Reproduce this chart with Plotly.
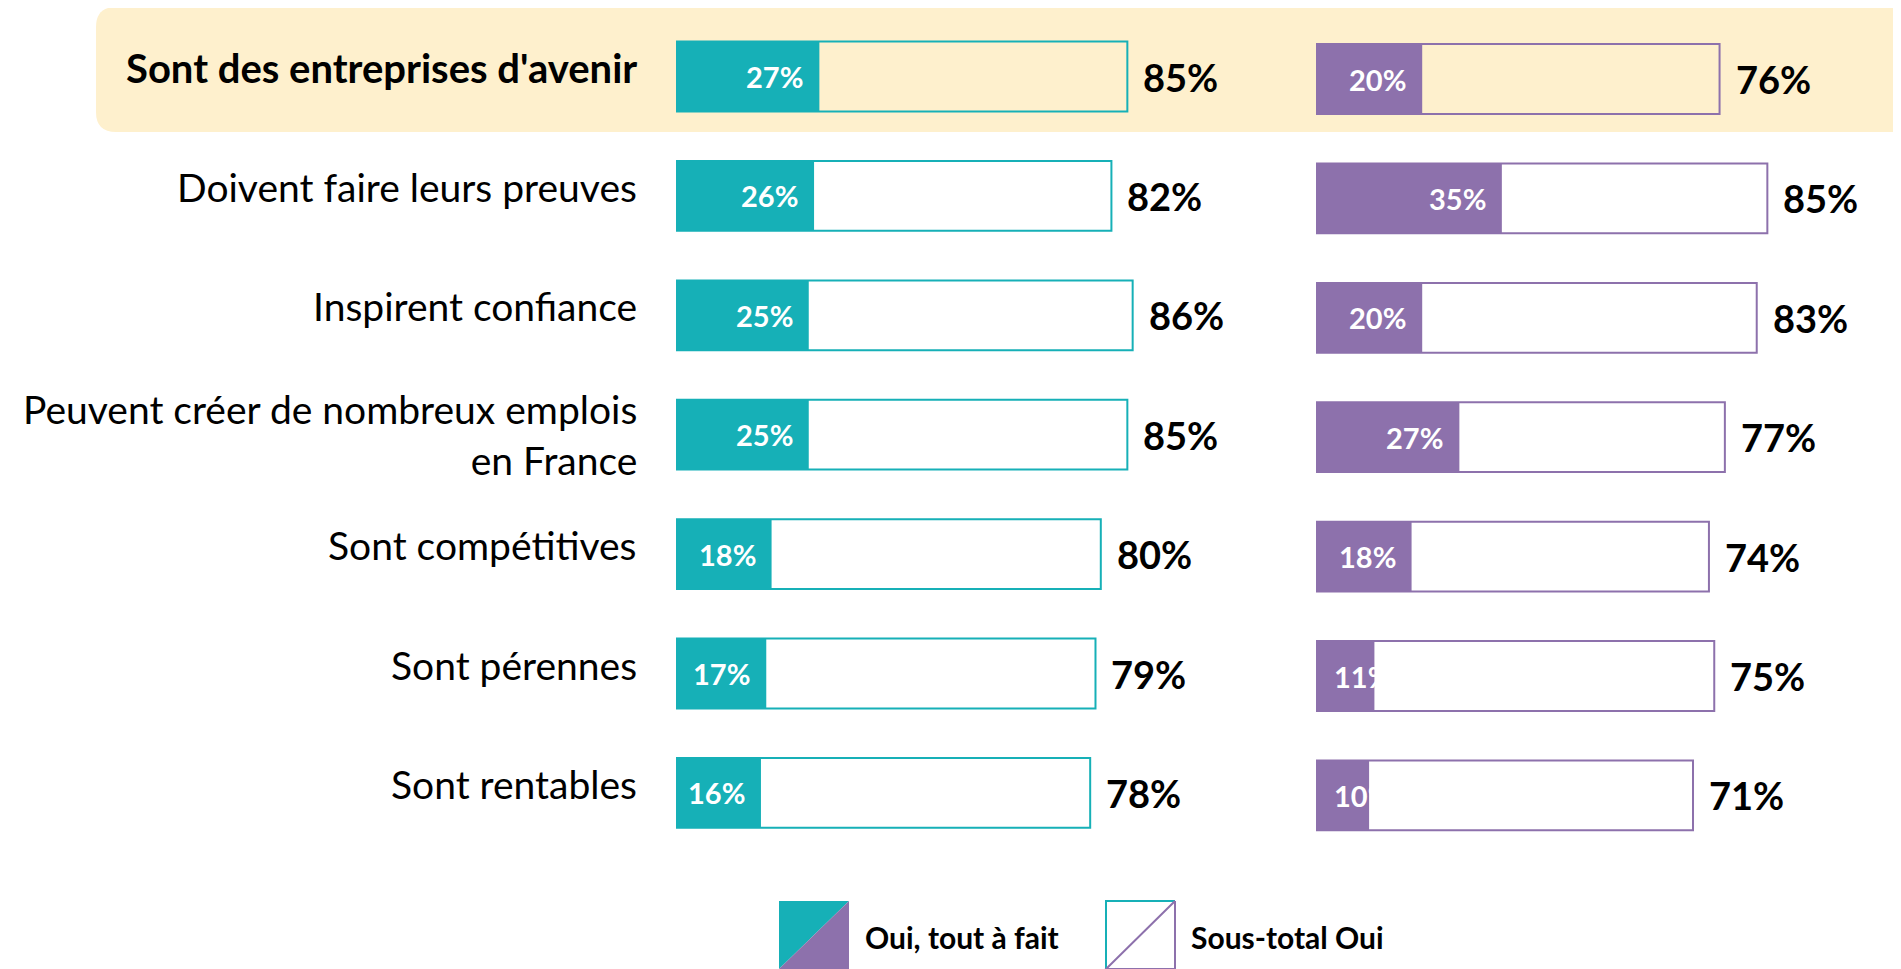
import plotly.graph_objects as go

categories = [
    "Sont des entreprises d'avenir",
    "Doivent faire leurs preuves",
    "Inspirent confiance",
    "Peuvent créer de nombreux emplois<br>en France",
    "Sont compétitives",
    "Sont pérennes",
    "Sont rentables",
]
teal_fait = [27, 26, 25, 25, 18, 17, 16]
teal_total = [85, 82, 86, 85, 80, 79, 78]
purple_fait = [20, 35, 20, 27, 18, 11, 10]
purple_total = [76, 85, 83, 77, 74, 75, 71]
legend_labels = ["Oui, tout à fait", "Sous-total Oui"]

TEAL = "#16B0B7"
PURPLE = "#8D71AC"
BAND = "#FEF0CD"
FONT = "Lato"
W, H = 1901, 969
OFF = 8  # page body margin
PPU = 5.31  # pixels per percent


def px(x):
    return (x - OFF) / W


def py(y):
    return 1 - (y - OFF) / H


def yrange(top_center):
    # category axis range so that row 0 sits at top_center px, pitch 119.4 px
    pitch = 119.4
    start = -(top_center - OFF) / pitch
    return [start + H / pitch, start]


fig = go.Figure()

for xa, ya, fait, total, col in [("x", "y", teal_fait, teal_total, TEAL),
                                 ("x2", "y2", purple_fait, purple_total, PURPLE)]:
    fig.add_trace(go.Bar(x=total, y=categories, orientation="h", width=0.585,
                         marker=dict(color="rgba(0,0,0,0)", line=dict(color=col, width=2)),
                         xaxis=xa, yaxis=ya, hoverinfo="skip", showlegend=False))
    fig.add_trace(go.Bar(x=fait, y=categories, orientation="h", width=0.585,
                         marker=dict(color=col, line=dict(width=0)),
                         xaxis=xa, yaxis=ya, hoverinfo="skip", showlegend=False))
    for c, f, t in zip(categories, fait, total):
        if f >= 13:
            fig.add_annotation(x=f, y=c, xref=xa, yref=ya, text=f"<b>{f}%</b>",
                               xanchor="right", xshift=-14, showarrow=False,
                               font=dict(family=FONT, size=29, color="white"))
        else:
            fig.add_annotation(x=0, y=c, xref=xa, yref=ya, text=f"<b>{f}%</b>",
                               xanchor="left", xshift=16, showarrow=False,
                               font=dict(family=FONT, size=29, color="white"))
        fig.add_annotation(x=t, y=c, xref=xa, yref=ya, text=f"<b>{t}%</b>",
                           xanchor="left", xshift=14, showarrow=False,
                           font=dict(family=FONT, size=38, color="black"))

for i, c in enumerate(categories):
    txt = f"<b>{c}</b>" if i == 0 else c
    fig.add_annotation(x=px(639), y=c, xref="paper", yref="y", text=txt,
                       xanchor="right", align="right", showarrow=False,
                       yshift=0 if "<br>" in c else 9,
                       font=dict(family=FONT, size=40 if i == 0 else 39, color="black"))

# highlighted first row
x0, x1, y0, y1, r = 96, W + 20, 7, 132, 20
band_path = (f"M {px(x0 + r)} {py(y0)} L {px(x1)} {py(y0)} L {px(x1)} {py(y1)} "
             f"L {px(x0 + r)} {py(y1)} Q {px(x0)} {py(y1)} {px(x0)} {py(y1 - r)} "
             f"L {px(x0)} {py(y0 + r)} Q {px(x0)} {py(y0)} {px(x0 + r)} {py(y0)} Z")
fig.add_shape(type="path", path=band_path, xref="paper", yref="paper",
              fillcolor=BAND, line=dict(width=0), layer="below")

# legend swatches
lx0, lx1, ly0, ly1 = 779, 849, 901, 969
fig.add_shape(type="path", xref="paper", yref="paper", line=dict(width=0), fillcolor=TEAL,
              path=f"M {px(lx0)} {py(ly0)} L {px(lx1)} {py(ly0)} L {px(lx0)} {py(ly1)} Z")
fig.add_shape(type="path", xref="paper", yref="paper", line=dict(width=0), fillcolor=PURPLE,
              path=f"M {px(lx1)} {py(ly0)} L {px(lx1)} {py(ly1)} L {px(lx0)} {py(ly1)} Z")
sx0, sx1 = 1106, 1175
fig.add_shape(type="path", xref="paper", yref="paper", line=dict(color=TEAL, width=2),
              path=f"M {px(sx0)} {py(ly1)} L {px(sx0)} {py(ly0)} L {px(sx1)} {py(ly0)}")
fig.add_shape(type="path", xref="paper", yref="paper", line=dict(color=PURPLE, width=2),
              path=f"M {px(sx1)} {py(ly0)} L {px(sx1)} {py(ly1)} L {px(sx0)} {py(ly1)} "
                   f"L {px(sx1)} {py(ly0)}")
for lx, lab in zip([863, 1189], legend_labels):
    fig.add_annotation(x=px(lx), y=py(937), xref="paper", yref="paper", text=f"<b>{lab}</b>",
                       xanchor="left", yanchor="middle", showarrow=False,
                       font=dict(family=FONT, size=30, color="black"))

hidden = dict(showgrid=False, zeroline=False, showticklabels=False, showline=False, fixedrange=True)
fig.update_layout(
    width=W, height=H, margin=dict(l=0, r=0, t=0, b=0),
    paper_bgcolor="white", plot_bgcolor="rgba(0,0,0,0)",
    barmode="overlay", showlegend=False,
    xaxis=dict(domain=[px(676), px(1276)], range=[0, 600 / PPU], anchor="y", **hidden),
    xaxis2=dict(domain=[px(1316), 1], range=[0, (W + OFF - 1316) / PPU], anchor="y2", **hidden),
    yaxis=dict(domain=[0, 1], type="category", categoryarray=categories,
               range=yrange(76.5), anchor="x", **hidden),
    yaxis2=dict(domain=[0, 1], type="category", categoryarray=categories,
                range=yrange(79), anchor="x2", **hidden),
)

fig.write_html("out.html")
